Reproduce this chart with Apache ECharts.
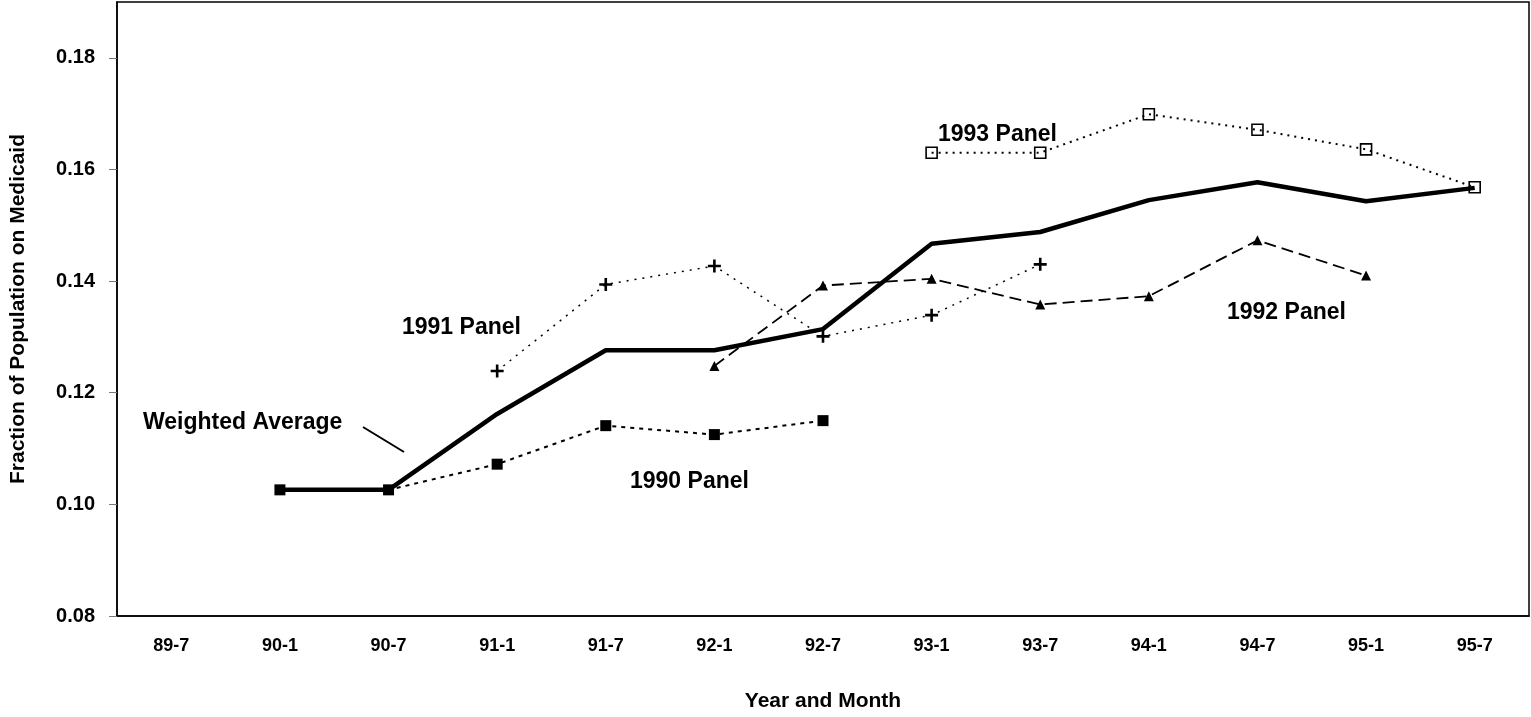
<!DOCTYPE html>
<html>
<head>
<meta charset="utf-8">
<script src="https://cdn.jsdelivr.net/npm/echarts@6/dist/echarts.min.js"></script>
<style>
html,body{margin:0;padding:0;background:#fff;}
#chart{width:1531px;height:717px;}
</style>
</head>
<body>
<div id="chart"></div>
<script>
var categories = ['89-7','90-1','90-7','91-1','91-7','92-1','92-7','93-1','93-7','94-1','94-7','95-1','95-7'];
var weightedAverage = [null, 0.1026, 0.1026, 0.1162, 0.1276, 0.1276, 0.1314, 0.1467, 0.1488, 0.1545, 0.1577, 0.1543, 0.1567];
var panel1990 = [null, 0.1026, 0.1026, 0.1072, 0.1141, 0.1125, 0.1150, null, null, null, null, null, null];
var panel1991 = [null, null, null, 0.1239, 0.1394, 0.1427, 0.1301, 0.1339, 0.1430, null, null, null, null];
var panel1992 = [null, null, null, null, null, 0.1248, 0.1392, 0.1404, 0.1358, 0.1373, 0.1473, 0.1410, null];
var panel1993 = [null, null, null, null, null, null, null, 0.1630, 0.1630, 0.1699, 0.1671, 0.1636, 0.1568];
var yTicks = {min: 0.08, max: 0.19, interval: 0.02};

var FONT = '"Liberation Sans", Arial, Helvetica, sans-serif';
var plusPath = 'path://M4,0H6V4H10V6H6V10H4V6H0V4H4Z';

var chart = echarts.init(document.getElementById('chart'));
var option = {
  backgroundColor: '#fff',
  animation: false,
  grid: {left: 104, right: 2, top: 2, bottom: 91, show: true, borderColor: '#000', borderWidth: 1.5, containLabel: false},
  xAxis: {
    type: 'category',
    data: categories,
    boundaryGap: true,
    name: 'Year and Month',
    nameLocation: 'middle',
    nameGap: 75,
    nameTextStyle: {fontFamily: FONT, fontWeight: 'bold', fontSize: 21, color: '#000'},
    axisLine: {lineStyle: {color: '#000', width: 1.5}},
    axisTick: {inside: true, length: 7, lineStyle: {color: '#333', width: 1}},
    axisLabel: {fontFamily: FONT, fontWeight: 'bold', fontSize: 18, color: '#000', margin: 21, interval: 0},
    splitLine: {show: false}
  },
  yAxis: {
    type: 'value',
    min: yTicks.min,
    max: yTicks.max,
    interval: yTicks.interval,
    name: 'Fraction of Population on Medicaid',
    nameLocation: 'middle',
    nameGap: 88,
    nameRotate: 90,
    nameTextStyle: {fontFamily: FONT, fontWeight: 'bold', fontSize: 21, color: '#000'},
    axisLine: {show: true, lineStyle: {color: '#000', width: 1.5}},
    axisTick: {show: true, inside: false, length: 8, lineStyle: {color: '#777', width: 1}},
    axisLabel: {fontFamily: FONT, fontWeight: 'bold', fontSize: 20, color: '#000', margin: 22, showMaxLabel: false,
      formatter: function (v) { return v.toFixed(2); }},
    splitLine: {show: false}
  },
  series: [
    {
      name: '1990 Panel', type: 'line', data: panel1990, connectNulls: false,
      symbol: 'rect', symbolSize: 11, showSymbol: true,
      lineStyle: {color: '#000', width: 2, type: [4, 5]},
      itemStyle: {color: '#000'}, z: 2
    },
    {
      name: '1991 Panel', type: 'line', data: panel1991,
      symbol: plusPath, symbolSize: 13,
      lineStyle: {color: '#000', width: 1.5, type: [2, 6]},
      itemStyle: {color: '#000'}, z: 2
    },
    {
      name: '1992 Panel', type: 'line', data: panel1992,
      symbol: 'triangle', symbolSize: 10,
      lineStyle: {color: '#000', width: 1.8, type: [12, 6]},
      itemStyle: {color: '#000'}, z: 2
    },
    {
      name: '1993 Panel', type: 'line', data: panel1993,
      symbol: 'rect', symbolSize: 11,
      lineStyle: {color: '#000', width: 2, type: [2, 5]},
      itemStyle: {color: 'rgba(255,255,255,0)', borderColor: '#000', borderWidth: 1.6}, z: 2
    },
    {
      name: 'Weighted Average', type: 'line', data: weightedAverage,
      symbol: 'none',
      lineStyle: {color: '#000', width: 4.5, type: 'solid'}, z: 3
    }
  ],
  graphic: [
    {type: 'text', left: 143, top: 411, style: {text: 'Weighted Average', font: 'bold 23px ' + FONT, fill: '#000'}},
    {type: 'line', shape: {x1: 363, y1: 427, x2: 404, y2: 452}, style: {stroke: '#000', lineWidth: 2}},
    {type: 'text', left: 402, top: 316, style: {text: '1991 Panel', font: 'bold 23px ' + FONT, fill: '#000'}},
    {type: 'text', left: 630, top: 470, style: {text: '1990 Panel', font: 'bold 23px ' + FONT, fill: '#000'}},
    {type: 'text', left: 938, top: 123, style: {text: '1993 Panel', font: 'bold 23px ' + FONT, fill: '#000'}},
    {type: 'text', left: 1227, top: 301, style: {text: '1992 Panel', font: 'bold 23px ' + FONT, fill: '#000'}}
  ]
};
chart.setOption(option);
</script>
</body>
</html>
